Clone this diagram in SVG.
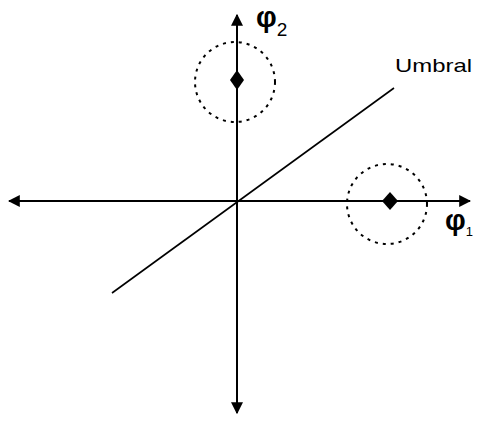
<svg xmlns="http://www.w3.org/2000/svg" width="477" height="421" viewBox="0 0 477 421">
<style>
.ax{stroke:#000;stroke-width:2;fill:none}
.dash{stroke:#000;stroke-width:2;fill:none;stroke-dasharray:3 5}
.dm{fill:#000}
.t{font-family:"Liberation Sans",Arial,sans-serif;fill:#000}
.phi{font-size:29px;font-weight:bold}
.sub{font-size:19px}
</style>
<defs>
<marker id="ah" viewBox="0 0 10 10" refX="9" refY="5" markerWidth="6" markerHeight="6" orient="auto">
<path d="M0,0 L10,5 L0,10 Z" fill="#000"/>
</marker>
</defs>
<rect width="477" height="421" fill="#fff"/>
<g id="connectors">
<line class="ax" x1="237" y1="201" x2="237" y2="15" marker-end="url(#ah)"/>
<line class="ax" x1="237" y1="201" x2="237" y2="413" marker-end="url(#ah)"/>
<line class="ax" x1="237" y1="201" x2="9" y2="201" marker-end="url(#ah)"/>
<line class="ax" x1="237" y1="201" x2="470" y2="201" marker-end="url(#ah)"/>
<line x1="112" y1="293" x2="394" y2="88" stroke="#000" stroke-width="1.6"/>
</g>
<g id="cluster2">
<circle class="dash" cx="235" cy="82" r="40"/>
<path class="dm" d="M237,70 L244,80 L237,90 L230,80 Z"/>
</g>
<g id="cluster1">
<circle class="dash" cx="387" cy="204" r="40"/>
<path class="dm" d="M390,192 L398,201 L390,210 L382,201 Z"/>
</g>
<g id="labels">
<text class="t" x="395" y="72" font-size="19" textLength="77" lengthAdjust="spacingAndGlyphs">Umbral</text>
<text class="t" x="256" y="27"><tspan class="phi">φ</tspan><tspan class="sub" dy="9">2</tspan></text>
<text class="t" x="445" y="230"><tspan class="phi">φ</tspan><tspan font-size="13" dy="6">1</tspan></text>
</g>
</svg>
